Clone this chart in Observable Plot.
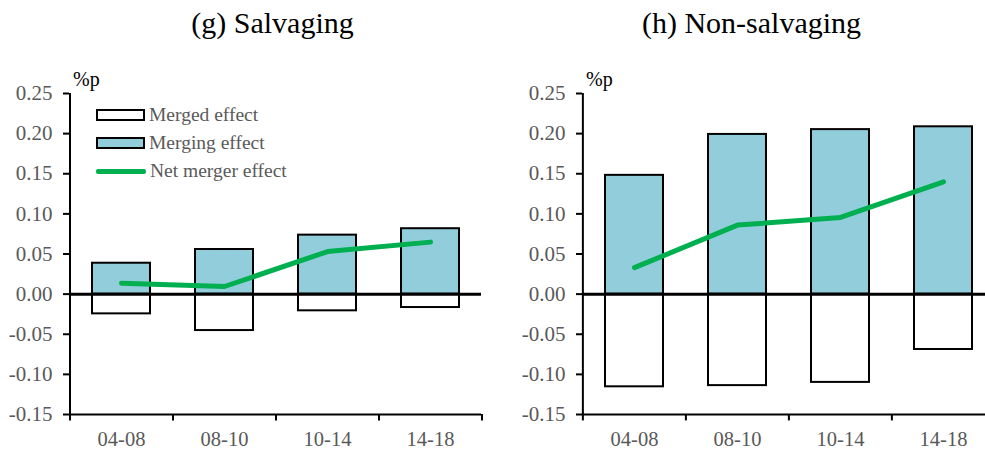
<!DOCTYPE html>
<html><head><meta charset="utf-8">
<script src="https://cdn.jsdelivr.net/npm/d3@7"></script>
<script src="https://cdn.jsdelivr.net/npm/@observablehq/plot@0.6"></script>
<style>
body{margin:0;width:985px;height:454px;overflow:hidden;background:#fff;font-family:"Liberation Serif","Times New Roman",serif;}
#wrap{position:relative;width:985px;height:454px;}
.panel{position:absolute;top:0;}
.panel svg{overflow:visible;}
.panel svg g[aria-label="y-axis tick label"]{font-size:21px;}
.panel svg g[aria-label="x-axis tick label"]{font-size:20.5px;}
.title{position:absolute;top:6px;font-size:30px;line-height:normal;color:#000;white-space:nowrap;transform:translateX(-50%);}
.unit{position:absolute;font-size:20px;line-height:1;color:#000;}
.legend{position:absolute;left:96px;top:101px;font-size:19.5px;color:#595959;}
.legend div{display:flex;align-items:center;height:28px;}
.legend .sw{width:45px;height:8px;border:2.5px solid #000;margin-right:4px;box-sizing:content-box}
.legend .ln{width:50px;height:5px;background:#00B050;border-radius:2px;margin-right:4px;}
</style></head>
<body><div id="wrap"></div>
<script>
const categories = ["04-08", "08-10", "10-14", "14-18"];
const yTicks = [-0.15, -0.10, -0.05, 0, 0.05, 0.10, 0.15, 0.20, 0.25];
// (g) Salvaging
const salvMerged  = [-0.0246, -0.0454, -0.0208, -0.0167];
const salvMerging = [0.0385, 0.0556, 0.0735, 0.0815];
const salvNet     = [0.0136, 0.0095, 0.053, 0.0648];
// (h) Non-salvaging
const nonMerged  = [-0.1155, -0.114, -0.110, -0.069];
const nonMerging = [0.148, 0.199, 0.205, 0.2085];
const nonNet     = [0.033, 0.086, 0.0955, 0.140];

const titles = ["(g) Salvaging", "(h) Non-salvaging"];
const legendLabels = ["Merged effect", "Merging effect", "Net merger effect"];

function fmt(d){ return Math.abs(d) < 1e-9 ? "0.00" : d.toFixed(2); }

function panel(merged, merging, net, opts){
  const rows = categories.map((c,i)=>({c, merged: merged[i], merging: merging[i], net: net[i]}));
  const step = (opts.width - opts.marginLeft - opts.marginRight) / categories.length;
  const last = categories[categories.length-1];
  return Plot.plot({
    width: opts.width, height: 454,
    marginLeft: opts.marginLeft, marginRight: opts.marginRight,
    marginTop: 93, marginBottom: 40,
    style: {fontFamily: "Liberation Serif, Times New Roman, serif", fontSize: "20px", background: "transparent"},
    x: {domain: categories, paddingInner: 0.44, paddingOuter: 0.22, axis: null},
    y: {domain: [-0.15, 0.25], axis: null},
    marks: [
      Plot.barY(rows, {x: "c", y: "merged", fill: "white", stroke: "black", strokeWidth: 2}),
      Plot.barY(rows, {x: "c", y: "merging", fill: "#92CDDC", stroke: "black", strokeWidth: 2}),
      Plot.ruleY([0], {stroke: "black", strokeWidth: 3}),
      Plot.line(rows, {x: "c", y: "net", stroke: "#00B050", strokeWidth: 5}),
      Plot.ruleY([-0.15], {stroke: "black", strokeWidth: 2}),
      Plot.ruleX([categories[0]], {x: d=>d, dx: -step/2, y1: -0.15, y2: 0.25, stroke: "black", strokeWidth: 2}),
      Plot.ruleX(categories, {x: d=>d, dx: -step/2, y1: -0.15, y2: -0.158, stroke: "black", strokeWidth: 2}),
      Plot.ruleX([last], {x: d=>d, dx: step/2, y1: -0.15, y2: -0.158, stroke: "black", strokeWidth: 2}),
      Plot.axisX({tickSize: 0, tickPadding: 17, fill: "#595959", fontSize: 20.5, label: null}),
      Plot.axisY({ticks: yTicks, tickFormat: fmt, tickSize: 6, tickPadding: 11, stroke: "black", strokeWidth: 2, fill: "#595959", fontSize: 21, label: null})
    ]
  });
}

const wrap = document.getElementById("wrap");
function add(el, left){ const d=document.createElement("div"); d.className="panel"; d.style.left=left+"px"; d.appendChild(el); wrap.appendChild(d); }
add(panel(salvMerged, salvMerging, salvNet, {width: 492, marginLeft: 69, marginRight: 11}), 0);
add(panel(nonMerged, nonMerging, nonNet, {width: 493, marginLeft: 90, marginRight: -10}), 492);

function txt(cls, s, l, t){ const d=document.createElement("div"); d.className=cls; d.textContent=s; d.style.left=l+"px"; if(t!=null) d.style.top=t+"px"; wrap.appendChild(d); }
txt("title", titles[0], 272.5);
txt("title", titles[1], 751.5);
txt("unit", "%p", 73, 69);
txt("unit", "%p", 586, 69);

const lg = document.createElement("div"); lg.className="legend";
lg.innerHTML = `<div><span class="sw" style="background:#fff"></span>${legendLabels[0]}</div>
<div><span class="sw" style="background:#92CDDC"></span>${legendLabels[1]}</div>
<div><span class="ln"></span>${legendLabels[2]}</div>`;
wrap.appendChild(lg);
</script></body></html>
